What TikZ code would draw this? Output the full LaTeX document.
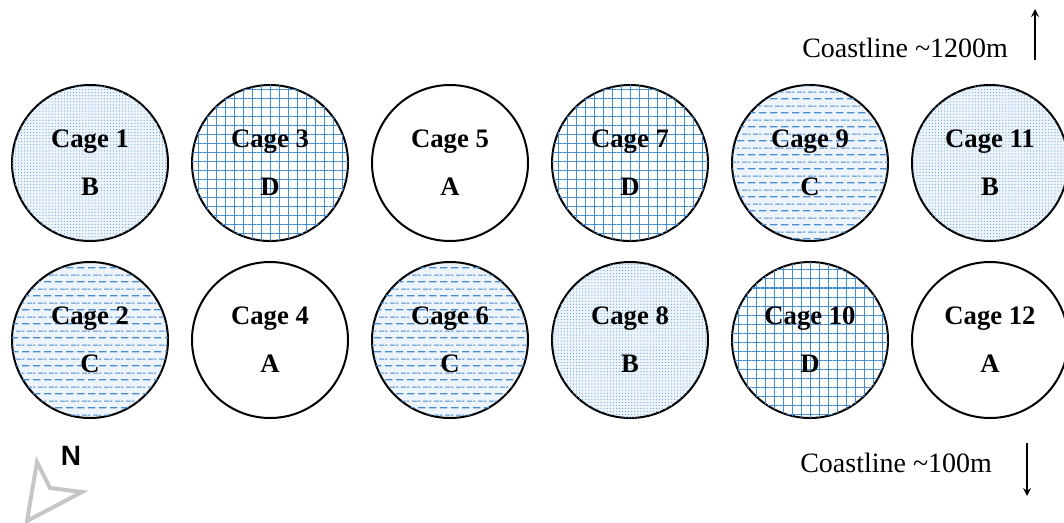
\documentclass[tikz,border=0pt]{standalone}
\usepackage{fontspec}
\setmainfont{Liberation Serif}
\newfontfamily\arialfont{Liberation Sans}
\usetikzlibrary{patterns.meta}
\definecolor{cageblue}{HTML}{4A8CD0}
\definecolor{cagetint}{HTML}{EEF4FB}
\tikzdeclarepattern{
	name=cagedashes, type=uncolored,
	bounding box={(0,0) and (8.25pt,10.5pt)},
	tile size={(8.25pt,10.5pt)},
	code={
		\draw[line width=0.9pt] (0,2.6pt)--(6pt,2.6pt);
		\draw[line width=0.9pt] (4.1pt,7.9pt)--(8.25pt,7.9pt);
		\draw[line width=0.9pt] (0,7.9pt)--(1.9pt,7.9pt);
	}
}
\tikzset{
	cage/.style={circle,draw,line width=1.5pt,minimum size=117pt,inner sep=0pt,
		align=center,font=\bfseries\fontsize{20}{36}\selectfont},
	trtA/.style={fill=white},
	trtB/.style={fill=cagetint,postaction={pattern={Dots[distance=2.3pt,radius=0.45pt]},pattern color=cageblue!80}},
	trtC/.style={fill=cagetint,postaction={pattern=cagedashes,pattern color=cageblue}},
	trtD/.style={fill=white,postaction={pattern={Hatch[distance=6.75pt,line width=0.75pt]},pattern color=cageblue}},
	coast/.style={font=\fontsize{21}{24}\selectfont,anchor=west,inner sep=0pt}
}
\begin{document}
\begin{tikzpicture}[x=0.75pt,y=0.75pt]
		\useasboundingbox (0,0) rectangle (1064,-522);
		\foreach \x/\y/\n/\t in {90/163/1/B,270/163/3/D,450/163/5/A,630/163/7/D,810/163/9/C,990/163/11/B,
			90/340/2/C,270/340/4/A,450/340/6/C,630/340/8/B,810/340/10/D,990/340/12/A}{
			\node[cage,trt\t] (c\n) at (\x,-\y) {Cage \n\\\t};
		}
		\node[coast] (top) at (802,-48) {Coastline \textasciitilde1200m};
		\node[coast] (bot) at (800,-463) {Coastline \textasciitilde100m};
		\coordinate (up0) at (1035,-60);
		\coordinate (up1) at (1035,-9);
		\coordinate (dn0) at (1027,-443);
		\coordinate (dn1) at (1027,-496);
		\draw[->,>=stealth,line width=1.6pt] (up0)--(up1);
		\draw[->,>=stealth,line width=1.6pt] (dn0)--(dn1);
		\node[font=\arialfont\bfseries\fontsize{21}{24}\selectfont] (N) at (71,-456) {N};
		\draw[gray!45,line width=3pt,line join=miter] (37,-462)--(50,-488)--(82,-492)--(27,-521)--cycle;
	\end{tikzpicture}
\end{document}
